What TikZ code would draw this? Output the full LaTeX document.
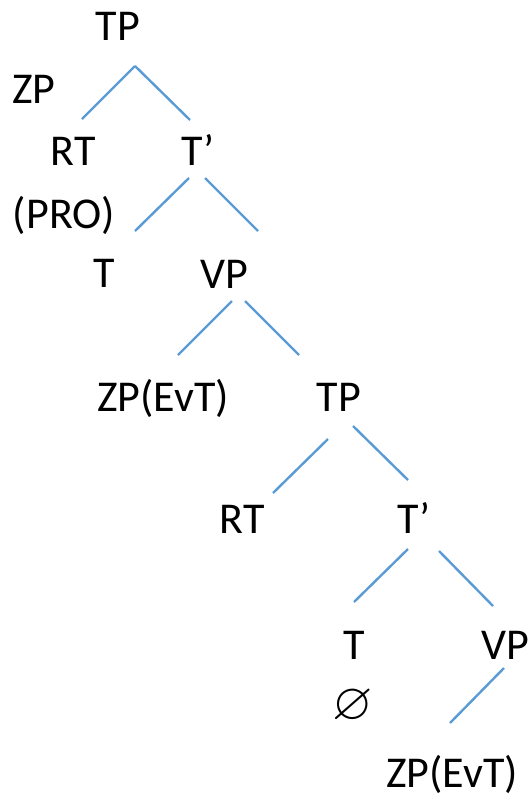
\documentclass[tikz,border=0pt]{standalone}
\usepackage{amssymb}
\usepackage{fontspec}
\setmainfont{Carlito}
\usepackage{tikz}
\usetikzlibrary{calc}

\definecolor{branchblue}{RGB}{91,155,213}

\begin{document}
\begin{tikzpicture}[
            x = 1pt, y = -1pt, % pixel grid, y downwards
            label/.style = {anchor = base, inner sep = 0pt,
                font = \fontsize{44}{48}\selectfont},
            branch/.style = {draw = branchblue, line width = 2.4pt}
        ]

    \useasboundingbox (0,0) rectangle (530,798);

	\node[label] (TP) at (118,40) {TP};
	\node[label] (ZP) at (34,103) {ZP};
	\node[label] (RT) at (73,165) {RT};
	\node[label] (Tbar) at (198,165) {T’};
	\node[label] (PRO) at (64,228) {(PRO)};
	\node[label] (T) at (104,287) {T};
	\node[label] (VP) at (224,288) {VP};
	\node[label] (ZPevt) at (163,411) {ZP(EvT)};
	\node[label] (TP2) at (339,411) {TP};
	\node[label] (RT2) at (242,533) {RT};
	\node[label] (Tbar2) at (414,533) {T’};
	\node[label] (T2) at (354,659) {T};
	\node[label] (VP2) at (505,659) {VP};
	\node[inner sep = 0pt, font = \fontsize{52}{56}\selectfont] (null) at (353,706) {$\varnothing$};
	\node[label] (ZPevt2) at (452,787) {ZP(EvT)};

	% branches
	\draw[branch] ($(TP.base)+(17,26)$) -- ($(RT.base)+(9,-46)$);
	\draw[branch] ($(TP.base)+(17,26)$) -- ($(Tbar.base)+(-8,-45)$);
	\draw[branch] ($(Tbar.base)+(-9,13)$) -- ($(T.base)+(31,-56)$);
	\draw[branch] ($(Tbar.base)+(7,13)$) -- ($(VP.base)+(34,-57)$);
	\draw[branch] ($(VP.base)+(8,13)$) -- ($(ZPevt.base)+(15,-56)$);
	\draw[branch] ($(VP.base)+(21,13)$) -- ($(TP2.base)+(-40,-56)$);
	\draw[branch] ($(TP2.base)+(-11,28)$) -- ($(RT2.base)+(31,-40)$);
	\draw[branch] ($(TP2.base)+(14,15)$) -- ($(Tbar2.base)+(-6,-53)$);
	\draw[branch] ($(Tbar2.base)+(-6,16)$) -- ($(T2.base)+(0,-57)$);
	\draw[branch] ($(Tbar2.base)+(25,18)$) -- ($(VP2.base)+(-12,-53)$);
	\draw[branch] ($(VP2.base)+(-1,9)$) -- ($(ZPevt2.base)+(-2,-64)$);

\end{tikzpicture}
\end{document}
